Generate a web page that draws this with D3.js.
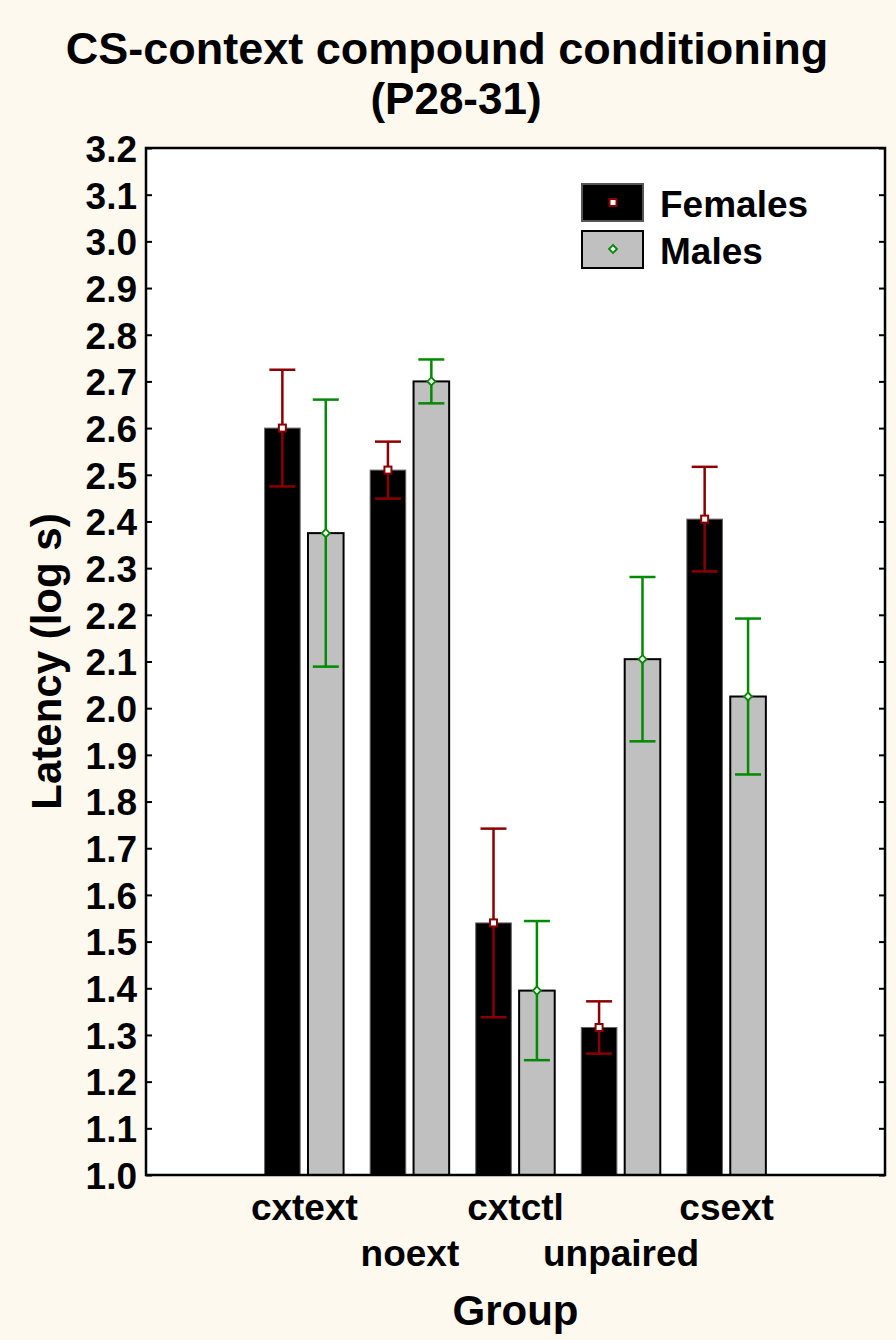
<!DOCTYPE html>
<meta charset='utf-8'>
<html>
<head>
    <title>CS-context compound conditioning</title>
    <script src='https://d3js.org/d3.v7.min.js'></script>
    <style>
        html, body { margin: 0; padding: 0; background: #fdf9ef; }
        svg { display: block; }
        text { font-family: 'Liberation Sans', Arial, sans-serif; font-weight: bold; fill: #000; }
    </style>
</head>
<body>
<script>
    // data
    const groups = ['cxtext', 'noext', 'cxtctl', 'unpaired', 'csext'];
    const series = ['Females', 'Males'];
    const femaleMeans = [2.60, 2.51, 1.54, 1.316, 2.405];
    const femaleErr = [0.125, 0.061, 0.202, 0.056, 0.112];
    const maleMeans = [2.375, 2.70, 1.395, 2.105, 2.025];
    const maleErr = [0.286, 0.047, 0.149, 0.176, 0.167];
    const yTicks = d3.range(10, 33).map(d => d / 10);

    const width = 896;
    const height = 1340;
    const plot = { left: 146, right: 885, top: 148, bottom: 1175 };
    const colours = {
        Females: { fill: '#000000', stroke: '#666666', err: '#8b0000' },
        Males: { fill: '#c0c0c0', stroke: '#000000', err: '#008a00' }
    };

    const svg = d3.select('body')
        .append('svg')
        .attr('width', width)
        .attr('height', height);

    svg.append('rect')
        .attr('width', width)
        .attr('height', height)
        .attr('fill', '#fdf9ef');

    // title
    svg.append('text')
        .attr('x', 447).attr('y', 64)
        .attr('text-anchor', 'middle')
        .style('font-size', '45px')
        .text('CS-context compound conditioning');
    svg.append('text')
        .attr('x', 456).attr('y', 114)
        .attr('text-anchor', 'middle')
        .style('font-size', '44px')
        .text('(P28-31)');

    // scales
    const step = (plot.right - plot.left) / (groups.length + 2);
    const x = d3.scaleBand()
        .domain(groups)
        .range([plot.left + step, plot.right - step]);
    const xInner = d3.scaleBand()
        .domain(series)
        .range([13, 92])
        .paddingInner(0.18);
    const y = d3.scaleLinear()
        .domain([1.0, 3.2])
        .range([plot.bottom, plot.top]);

    // plot area
    svg.append('rect')
        .attr('x', plot.left).attr('y', plot.top)
        .attr('width', plot.right - plot.left)
        .attr('height', plot.bottom - plot.top)
        .attr('fill', '#ffffff');

    const rows = [];
    groups.forEach((g, i) => {
        rows.push({ group: g, s: 'Females', mean: femaleMeans[i], err: femaleErr[i] });
        rows.push({ group: g, s: 'Males', mean: maleMeans[i], err: maleErr[i] });
    });

    // bars
    svg.append('g')
        .selectAll('rect')
        .data(rows)
        .enter()
        .append('rect')
        .attr('x', d => x(d.group) + xInner(d.s))
        .attr('y', d => y(d.mean))
        .attr('width', xInner.bandwidth())
        .attr('height', d => y(1.0) - y(d.mean))
        .attr('fill', d => colours[d.s].fill)
        .attr('stroke', d => colours[d.s].stroke)
        .attr('stroke-width', d => d.s === 'Males' ? 2 : 1);

    // error bars
    const cx = d => x(d.group) + xInner(d.s) + xInner.bandwidth() / 2;
    const errG = svg.append('g')
        .selectAll('g')
        .data(rows)
        .enter()
        .append('g')
        .attr('stroke', d => colours[d.s].err)
        .attr('stroke-width', 2.5)
        .attr('fill', 'none');

    errG.append('line')
        .attr('x1', cx).attr('x2', cx)
        .attr('y1', d => y(d.mean + d.err))
        .attr('y2', d => y(d.mean - d.err));
    errG.append('line')
        .attr('x1', d => cx(d) - 13).attr('x2', d => cx(d) + 13)
        .attr('y1', d => y(d.mean + d.err))
        .attr('y2', d => y(d.mean + d.err));
    errG.append('line')
        .attr('x1', d => cx(d) - 13).attr('x2', d => cx(d) + 13)
        .attr('y1', d => y(d.mean - d.err))
        .attr('y2', d => y(d.mean - d.err));

    // mean markers
    errG.filter(d => d.s === 'Females')
        .append('rect')
        .attr('x', d => cx(d) - 3.5)
        .attr('y', d => y(d.mean) - 3.5)
        .attr('width', 7).attr('height', 7)
        .attr('fill', '#ffffff')
        .attr('stroke-width', 2);
    errG.filter(d => d.s === 'Males')
        .append('path')
        .attr('d', d => {
            const px = cx(d), py = y(d.mean);
            return `M${px},${py - 4}L${px + 4},${py}L${px},${py + 4}L${px - 4},${py}Z`;
        })
        .attr('fill', '#ffffff')
        .attr('stroke-width', 1.8);

    // axes
    const yAxis = svg.append('g')
        .attr('transform', `translate(${plot.left},0)`)
        .call(d3.axisLeft(y).tickValues(yTicks).tickFormat(d3.format('.1f'))
            .tickSizeInner(-6).tickSizeOuter(0).tickPadding(9));
    yAxis.select('.domain').remove();
    yAxis.selectAll('line').attr('stroke-width', 2);
    yAxis.selectAll('text')
        .style('font-size', '37px')
        .style('font-family', "'Liberation Sans', Arial, sans-serif")
        .style('font-weight', 'bold')
        .attr('dy', '0.36em');

    const yAxisR = svg.append('g')
        .attr('transform', `translate(${plot.right},0)`)
        .call(d3.axisRight(y).tickValues(yTicks).tickFormat('')
            .tickSizeInner(-6).tickSizeOuter(0));
    yAxisR.select('.domain').remove();
    yAxisR.selectAll('line').attr('stroke-width', 2);

    // frame
    svg.append('rect')
        .attr('x', plot.left).attr('y', plot.top)
        .attr('width', plot.right - plot.left)
        .attr('height', plot.bottom - plot.top)
        .attr('fill', 'none')
        .attr('stroke', '#000')
        .attr('stroke-width', 2.5);

    // category labels, staggered
    svg.append('g')
        .selectAll('text')
        .data(groups)
        .enter()
        .append('text')
        .attr('x', d => x(d) + x.bandwidth() / 2)
        .attr('y', (d, i) => i % 2 === 0 ? 1220 : 1266)
        .attr('text-anchor', 'middle')
        .style('font-size', '37px')
        .text(d => d);

    svg.append('text')
        .attr('x', (plot.left + plot.right) / 2)
        .attr('y', 1325)
        .attr('text-anchor', 'middle')
        .style('font-size', '42px')
        .text('Group');

    svg.append('text')
        .attr('transform', `translate(61,${(plot.top + plot.bottom) / 2}) rotate(-90)`)
        .attr('text-anchor', 'middle')
        .style('font-size', '42px')
        .text('Latency (log s)');

    // legend
    const legend = svg.selectAll('g.legendEntry')
        .data(series)
        .enter()
        .append('g').attr('class', 'legendEntry');
    legend.append('rect')
        .attr('x', 582)
        .attr('y', (d, i) => 184 + i * 47)
        .attr('width', 61).attr('height', 37)
        .attr('fill', d => colours[d].fill)
        .attr('stroke', d => d === 'Males' ? '#000' : '#555')
        .attr('stroke-width', 2);
    legend.filter(d => d === 'Females').append('rect')
        .attr('x', 609.5).attr('y', 199)
        .attr('width', 7).attr('height', 7)
        .attr('fill', '#fff')
        .attr('stroke', colours.Females.err)
        .attr('stroke-width', 2);
    legend.filter(d => d === 'Males').append('path')
        .attr('d', 'M613,245L617,249L613,253L609,249Z')
        .attr('fill', '#fff')
        .attr('stroke', colours.Males.err)
        .attr('stroke-width', 1.8);
    legend.append('text')
        .attr('x', 660)
        .attr('y', (d, i) => 217 + i * 47)
        .style('font-size', '37px')
        .text(d => d);
</script>
</body>
</html>
